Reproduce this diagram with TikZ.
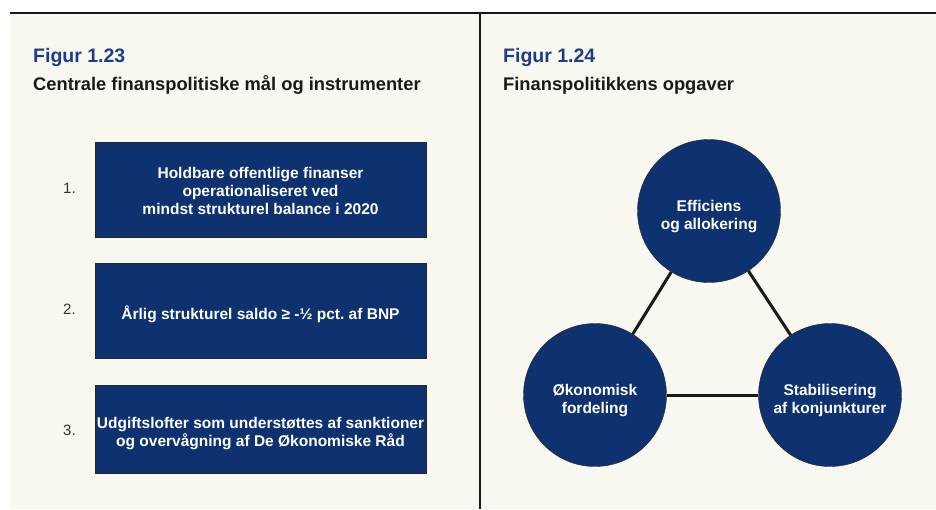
\documentclass[tikz,border=0pt]{standalone}
\usepackage{fontspec}
\setmainfont{Liberation Sans}
\frenchspacing
\definecolor{navy}{RGB}{14,49,112}
\definecolor{figblue}{RGB}{28,62,134}
\definecolor{panelbg}{RGB}{248,247,240}
\newcommand{\nodestrut}[1]{\rule{0pt}{#1}}% skubber teksten lidt ned
\tikzset{
  fig_nr/.style = {inner sep=0pt, anchor=base west, text=figblue,
    font=\fontsize{19.5}{22}\selectfont\bfseries},% figur nummer
  fig_title/.style = {inner sep=0pt, anchor=base west, text=black!90,
    font=\fontsize{18.3}{22}\selectfont\bfseries},% figur titel
  fig_box/.style = {rectangle, draw=black!85, fill=navy, text=white,
    align=center, minimum width=331pt, inner sep=0pt,
    font=\fontsize{15.5}{18.3}\selectfont\bfseries},% maal/instrument
  fig_num/.style = {inner sep=0pt, anchor=west, text=black!80,
    font=\fontsize{15}{18}\selectfont},% nummerering
  fig_circ/.style = {circle, draw=black!85, fill=navy, text=white,
    align=center, minimum size=143pt, inner sep=0pt,
    font=\fontsize{15.5}{18.3}\selectfont\bfseries}% opgave
}

\begin{document}
\begin{tikzpicture}[x=1pt, y=-1pt]
\useasboundingbox (0,0) rectangle (936,509);

% baggrund og rammelinjer
\fill[panelbg] (10,13) rectangle (936,509);
\draw[line width=1.5pt, black!90] (10,13) -- (936,13);
\draw[line width=1.5pt, black!90] (480,13) -- (480,509);

% figur 1.23
\node[fig_nr] (t1) at (33,62) {Figur 1.23};
\node[fig_title] (s1) at (33,90.5) {Centrale finanspolitiske mål og instrumenter};

\node[fig_box, minimum height=95pt] (b1) at (260.5,189.5)
	{\nodestrut{14pt}Holdbare offentlige finanser\\operationaliseret ved\\mindst strukturel balance i 2020};
\node[fig_box, minimum height=95pt] (b2) at (260.5,310.5)
	{\nodestrut{22pt}Årlig strukturel saldo ≥ -½ pct. af BNP};
\node[fig_box, minimum height=88pt] (b3) at (260.5,429)
	{\nodestrut{20pt}Udgiftslofter som understøttes af sanktioner\\og overvågning af De Økonomiske Råd};

\node[fig_num] (n1) at (63,188) {1.};
\node[fig_num] (n2) at (63,309) {2.};
\node[fig_num] (n3) at (63,430) {3.};

% figur 1.24
\node[fig_nr] (t2) at (503,62) {Figur 1.24};
\node[fig_title] (s2) at (503,90.5) {Finanspolitikkens opgaver};

\node[fig_circ] (eff) at (709,211) {\nodestrut{22pt}Efficiens\\og allokering};
\node[fig_circ] (oek) at (595,395) {\nodestrut{22pt}Økonomisk\\fordeling};
\node[fig_circ] (stab) at (830,395) {\nodestrut{22pt}Stabilisering\\af konjunkturer};

\draw[line width=3pt, black!90] (eff) -- (oek);
\draw[line width=3pt, black!90] (eff) -- (stab);
\draw[line width=3pt, black!90] (oek) -- (stab);
\end{tikzpicture}
\end{document}
